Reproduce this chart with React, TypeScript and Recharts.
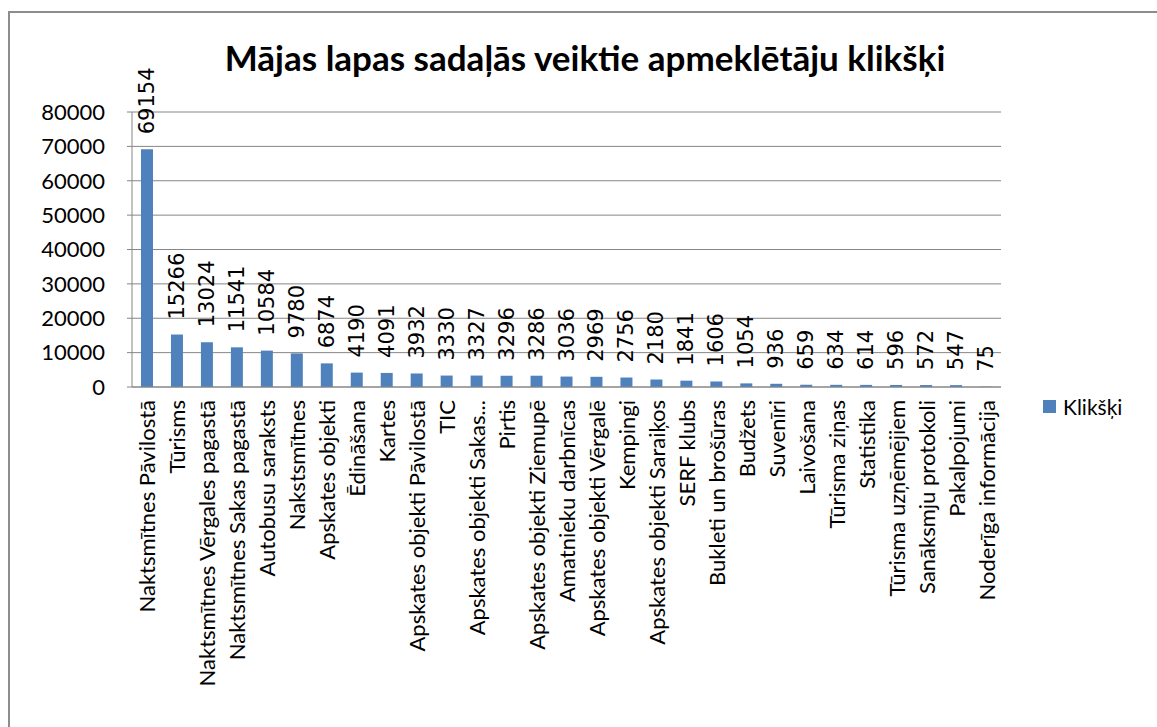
import { BarChart, Bar, XAxis, YAxis, CartesianGrid, LabelList } from "recharts";

const categories = [
  "Naktsmītnes Pāvilostā",
  "Tūrisms",
  "Naktsmītnes Vērgales pagastā",
  "Naktsmītnes Sakas pagastā",
  "Autobusu saraksts",
  "Nakstsmītnes",
  "Apskates objekti",
  "Ēdināšana",
  "Kartes",
  "Apskates objekti Pāvilostā",
  "TIC",
  "Apskates objekti Sakas...",
  "Pirtis",
  "Apskates objekti Ziemupē",
  "Amatnieku darbnīcas",
  "Apskates objekti Vērgalē",
  "Kempingi",
  "Apskates objekti Saraiķos",
  "SERF klubs",
  "Bukleti un brošūras",
  "Budžets",
  "Suvenīri",
  "Laivošana",
  "Tūrisma ziņas",
  "Statistika",
  "Tūrisma uzņēmējiem",
  "Sanāksmju protokoli",
  "Pakalpojumi",
  "Noderīga informācija",
];

const clicks = [
  69154, 15266, 13024, 11541, 10584, 9780, 6874, 4190, 4091, 3932, 3330, 3327,
  3296, 3286, 3036, 2969, 2756, 2180, 1841, 1606, 1054, 936, 659, 634, 614, 596,
  572, 547, 75,
];

const yTicks = [0, 10000, 20000, 30000, 40000, 50000, 60000, 70000, 80000];

const seriesName = "Klikšķi";

const data = categories.map((name, i) => ({ name, clicks: clicks[i] }));

const gray = "#868686";
const blue = "#4F81BD";

function CategoryTick({ x, y, payload }: any) {
  return (
    <text
      x={x}
      y={y}
      transform={`rotate(-90, ${x}, ${y})`}
      textAnchor="end"
      dominantBaseline="central"
      fontFamily="Lato"
      fontSize={22}
      fill="#000"
    >
      {payload.value}
    </text>
  );
}

// value above each bar, turned to read upwards
function ValueLabel({ x, y, width, value }: any) {
  const cx = x + width / 2;
  const ty = y - 15;
  return (
    <text
      x={cx}
      y={ty}
      transform={`rotate(-90, ${cx}, ${ty})`}
      textAnchor="start"
      dominantBaseline="central"
      fontFamily="DejaVu Sans"
      fontSize={21}
      fill="#000"
    >
      {value}
    </text>
  );
}

export default function App() {
  return (
    <div
      style={{
        position: "absolute",
        left: 0,
        top: 0,
        width: 1157,
        height: 727,
        overflow: "hidden",
        background: "#fff",
      }}
    >
      <div
        style={{
          position: "absolute",
          left: 8,
          top: 11,
          width: 1300,
          height: 900,
          border: `2px solid #8d8d8d`,
        }}
      />
      <div
        style={{
          position: "absolute",
          left: 0,
          top: 36,
          width: 1170,
          textAlign: "center",
          fontFamily: "Lato",
          fontWeight: 700,
          fontSize: 35,
          color: "#000",
        }}
      >
        Mājas lapas sadaļās veiktie apmeklētāju klikšķi
      </div>
      <div style={{ position: "absolute", left: 0, top: 0 }}>
        <BarChart
          width={1157}
          height={727}
          data={data}
          margin={{ top: 112, right: 156, left: 0, bottom: 0 }}
          barCategoryGap="30%"
        >
          <CartesianGrid vertical={false} stroke={gray} />
          <XAxis
            dataKey="name"
            interval={0}
            height={340}
            tickLine={false}
            tickSize={0}
            tickMargin={13}
            axisLine={{ stroke: gray }}
            tick={<CategoryTick />}
          />
          <YAxis
            width={132}
            domain={[0, 80000]}
            ticks={yTicks}
            interval={0}
            tickSize={5}
            tickMargin={22}
            tickLine={{ stroke: gray }}
            axisLine={{ stroke: gray }}
            tick={{ fontFamily: "Lato", fontSize: 22, fill: "#000" }}
          />
          <Bar dataKey="clicks" name={seriesName} fill={blue} isAnimationActive={false}>
            <LabelList dataKey="clicks" content={<ValueLabel />} />
          </Bar>
        </BarChart>
      </div>
      <div
        style={{
          position: "absolute",
          left: 1043,
          top: 394,
          display: "flex",
          alignItems: "center",
          fontFamily: "Lato",
          fontSize: 21,
          color: "#000",
        }}
      >
        <span style={{ width: 13, height: 13, background: blue, display: "inline-block", marginRight: 7 }} />
        {seriesName}
      </div>
    </div>
  );
}
